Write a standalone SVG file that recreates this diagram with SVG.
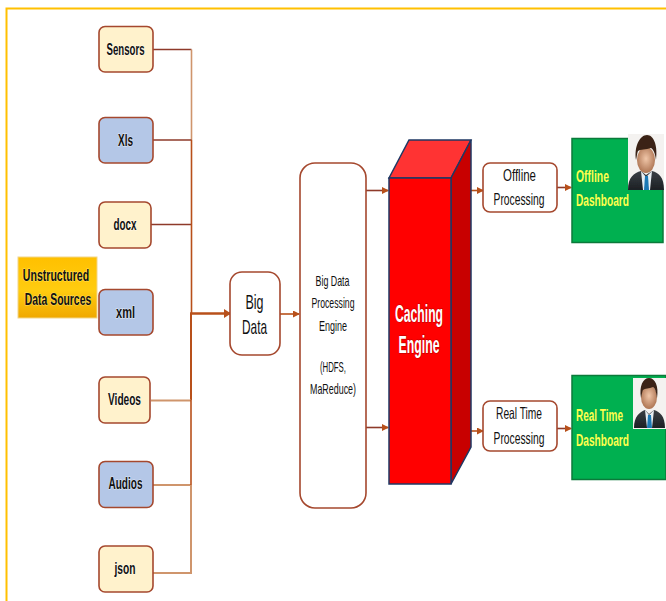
<svg xmlns="http://www.w3.org/2000/svg" width="666" height="601" viewBox="0 0 666 601">
<defs>
<marker id="ah" markerWidth="7" markerHeight="7" refX="6" refY="3.500" orient="auto" markerUnits="userSpaceOnUse"><path d="M0 0L7 3.500L0 7Z" fill="#b8501a"/></marker>
<marker id="ahb" markerWidth="7" markerHeight="9" refX="6" refY="4.500" orient="auto" markerUnits="userSpaceOnUse"><path d="M0 0L7 4.500L0 9Z" fill="#b8501a"/></marker>
<linearGradient id="gold" x1="0" y1="0" x2="0" y2="1"><stop offset="0" stop-color="#ffc000"/><stop offset="0.55" stop-color="#ffcc10"/><stop offset="1" stop-color="#f0a800"/></linearGradient>
<linearGradient id="suit" x1="0" y1="0" x2="0" y2="1"><stop offset="0" stop-color="#3a3f45"/><stop offset="1" stop-color="#1c2024"/></linearGradient>
<radialGradient id="skin" cx="0.5" cy="0.45" r="0.6"><stop offset="0" stop-color="#f0c6a8"/><stop offset="1" stop-color="#a86e4c"/></radialGradient>
<filter id="soft" x="-5%" y="-5%" width="110%" height="110%"><feGaussianBlur stdDeviation="0.4"/></filter>
</defs>
<style>
text{font-family:"Liberation Sans",Arial,sans-serif;text-anchor:middle;fill:#111;paint-order:stroke;stroke:#fff;stroke-width:1.2px;stroke-opacity:.6}
.n{stroke:#a5482e;stroke-width:1.6}
.cream{fill:#fff2cc}.blue{fill:#b4c7e7}.white{fill:#fff}
.s{font-size:16px;font-weight:bold}
.t{font-size:16.5px}
.p{font-size:14.5px}
.l{fill:none;stroke-width:1.6}
.dark{stroke:#8e3a2a}.mid{stroke:#b8501a}.pale{stroke:#cf956c}
.lab{fill:#ffff4d;stroke:none;font-size:17px;font-weight:bold;text-anchor:start}
.c{font-size:23px;font-weight:bold;fill:#fff;stroke:#a00;stroke-width:1.500px}
.b{font-size:21px}
</style>
<rect width="666" height="601" fill="#fff"/>
<path d="M6.500 601V8.500H666" fill="none" stroke="#ffc000" stroke-width="2"/>
<g id="connectors">
<path class="l dark" d="M153 49.500H191.500"/>
<path class="l pale" d="M191.500 49.500V140"/>
<path class="l dark" d="M153 140H191.500"/>
<path class="l mid" d="M191.500 140V224"/>
<path class="l dark" d="M151 224.500H191.500"/>
<path class="l mid" d="M191.500 224V313"/>
<path class="l mid" style="stroke-width:2" d="M191 313V400"/>
<path class="l pale" style="stroke-width:2" d="M151 400.500H191"/>
<path class="l pale" style="stroke-width:2" d="M153 485H191"/>
<path class="l mid" d="M191 400V485"/>
<path class="l pale" style="stroke-width:2" d="M153 573H191V485"/>
<path class="l mid" style="stroke-width:2.500" marker-end="url(#ahb)" d="M190 313.500H230"/>
<path class="l mid" marker-end="url(#ah)" d="M280 314H299"/>
<path class="l dark" marker-end="url(#ah)" d="M366 190.500H388"/>
<path class="l dark" marker-end="url(#ah)" d="M366 427.500H388"/>
<path class="l mid" marker-end="url(#ah)" d="M471 190.500H483"/>
<path class="l mid" marker-end="url(#ah)" d="M471 431H483"/>
<path class="l dark" marker-end="url(#ah)" d="M557 187.500H571"/>
<path class="l dark" marker-end="url(#ah)" d="M557 428.500H571"/>
</g>
<g id="sources"><rect x="18" y="257" width="79" height="61" fill="url(#gold)" stroke="#f2d58a" stroke-width="1"/>
<text class="s" transform="translate(56 281) scale(.66 1)" style="stroke:#fff0a0">Unstructured</text>
<text class="s" transform="translate(58 305) scale(.65 1)" style="stroke:#fff0a0">Data Sources</text></g>
<g id="sensors"><rect class="n cream" x="99" y="26.500" width="54" height="45.500" rx="6"/><text class="s" x="125.500" y="55" textLength="38" lengthAdjust="spacingAndGlyphs">Sensors</text></g>
<g id="xls"><rect class="n blue" x="99" y="117.500" width="54" height="45.500" rx="6"/><text class="s" x="125.500" y="146" textLength="15" lengthAdjust="spacingAndGlyphs">Xls</text></g>
<g id="docx"><rect class="n cream" x="99" y="202" width="52" height="46" rx="6"/><text class="s" x="125" y="230" textLength="23" lengthAdjust="spacingAndGlyphs">docx</text></g>
<g id="xml"><rect class="n blue" x="99" y="289.500" width="54" height="45.500" rx="6"/><text class="s" x="125.500" y="318" textLength="19" lengthAdjust="spacingAndGlyphs">xml</text></g>
<g id="videos"><rect class="n cream" x="99" y="377" width="51" height="46" rx="6"/><text class="s" x="124.500" y="405" textLength="33" lengthAdjust="spacingAndGlyphs">Videos</text></g>
<g id="audios"><rect class="n blue" x="99" y="461.500" width="54" height="46" rx="6"/><text class="s" x="125.500" y="489" textLength="34" lengthAdjust="spacingAndGlyphs">Audios</text></g>
<g id="json"><rect class="n cream" x="99" y="546" width="54" height="46" rx="6"/><text class="s" x="125" y="574" textLength="21" lengthAdjust="spacingAndGlyphs">json</text></g>
<g id="big-data"><rect class="n white" x="230" y="272" width="50" height="83" rx="12"/>
<text class="b" x="254.500" y="309" textLength="18" lengthAdjust="spacingAndGlyphs">Big</text>
<text class="b" x="254.500" y="334" textLength="25" lengthAdjust="spacingAndGlyphs">Data</text></g>
<g id="processing-engine"><rect class="n white" x="300" y="163" width="66" height="345" rx="15"/>
<text class="p" x="332.500" y="286" textLength="34" lengthAdjust="spacingAndGlyphs">Big Data</text>
<text class="p" x="333" y="308" textLength="43" lengthAdjust="spacingAndGlyphs">Processing</text>
<text class="p" x="333" y="331" textLength="28" lengthAdjust="spacingAndGlyphs">Engine</text>
<text class="p" x="333" y="372" textLength="26" lengthAdjust="spacingAndGlyphs">(HDFS,</text>
<text class="p" x="333" y="394" textLength="46" lengthAdjust="spacingAndGlyphs">MaReduce)</text>
</g>
<g id="caching-engine">
<path d="M389 178L409 140H471L451 178Z" fill="#ff3333" stroke="#1f3864" stroke-width="1.500"/>
<path d="M451 178L471 140V447L451 484Z" fill="#c80000" stroke="#1f3864" stroke-width="1.500"/>
<rect x="389" y="178" width="62" height="306" fill="#ff0000" stroke="#1f3864" stroke-width="1.500"/>
<text class="c" x="419" y="322" textLength="48" lengthAdjust="spacingAndGlyphs">Caching</text>
<text class="c" x="419" y="353" textLength="41" lengthAdjust="spacingAndGlyphs">Engine</text>
</g>
<g id="offline-processing"><rect class="n white" x="483" y="163" width="74" height="49" rx="7"/>
<text class="t" x="519.500" y="181" textLength="33" lengthAdjust="spacingAndGlyphs">Offline</text>
<text class="t" x="519" y="205" textLength="51" lengthAdjust="spacingAndGlyphs">Processing</text></g>
<g id="realtime-processing"><rect class="n white" x="483" y="401" width="74" height="50" rx="7"/>
<text class="t" x="519" y="419" textLength="46" lengthAdjust="spacingAndGlyphs">Real Time</text>
<text class="t" x="519" y="444" textLength="51" lengthAdjust="spacingAndGlyphs">Processing</text></g>
<g id="offline-dashboard"><rect x="572" y="138.500" width="91" height="104" fill="#00b050" stroke="#0b7a3a" stroke-width="1.500"/>
<rect x="628" y="134" width="36" height="56" fill="#f4f2f0"/>
<g filter="url(#soft)">
<path d="M628 190C628 177 634 173 641 171L646 175L652 171C659 173 664 177 664 190Z" fill="url(#suit)"/>
<path d="M641 171L646 177L652 171L650 190H643Z" fill="#e8eef2"/>
<path d="M645 176H648L649 190H644Z" fill="#1f78b4"/>
<ellipse cx="646" cy="160" rx="9" ry="13" fill="url(#skin)"/>
<path d="M636 160C634 146 640 135 647 135C654 135 658 146 656 160C655 152 653 149 651 148C646 150 640 149 638 151C637 153 637 156 636 160Z" fill="#3a2416"/>
</g>
<text class="lab" x="576" y="182" textLength="33" lengthAdjust="spacingAndGlyphs">Offline</text>
<text class="lab" x="576" y="206" textLength="53" lengthAdjust="spacingAndGlyphs">Dashboard</text></g>
<g id="realtime-dashboard"><rect x="572" y="375.500" width="94" height="104" fill="#00b050" stroke="#0b7a3a" stroke-width="1.500"/>
<rect x="633" y="378" width="33" height="51" fill="#f4f2f0"/>
<g filter="url(#soft)">
<path d="M634 428C634 416 640 412 645 410L649 414L654 410C660 412 665 416 665 428Z" fill="url(#suit)"/>
<path d="M645 410L649 415L654 410L652 428H647Z" fill="#e8eef2"/>
<path d="M648 415H651L652 428H647Z" fill="#1f78b4"/>
<ellipse cx="649" cy="397" rx="8" ry="12" fill="url(#skin)"/>
<path d="M641 398C639 386 643 378 649 378C655 378 659 386 657 398C656 391 655 388 653 387C649 389 645 388 643 390C642 392 642 394 641 398Z" fill="#3a2416"/>
</g>
<text class="lab" x="576" y="421" textLength="47" lengthAdjust="spacingAndGlyphs">Real Time</text>
<text class="lab" x="576" y="446" textLength="53" lengthAdjust="spacingAndGlyphs">Dashboard</text></g>
</svg>
